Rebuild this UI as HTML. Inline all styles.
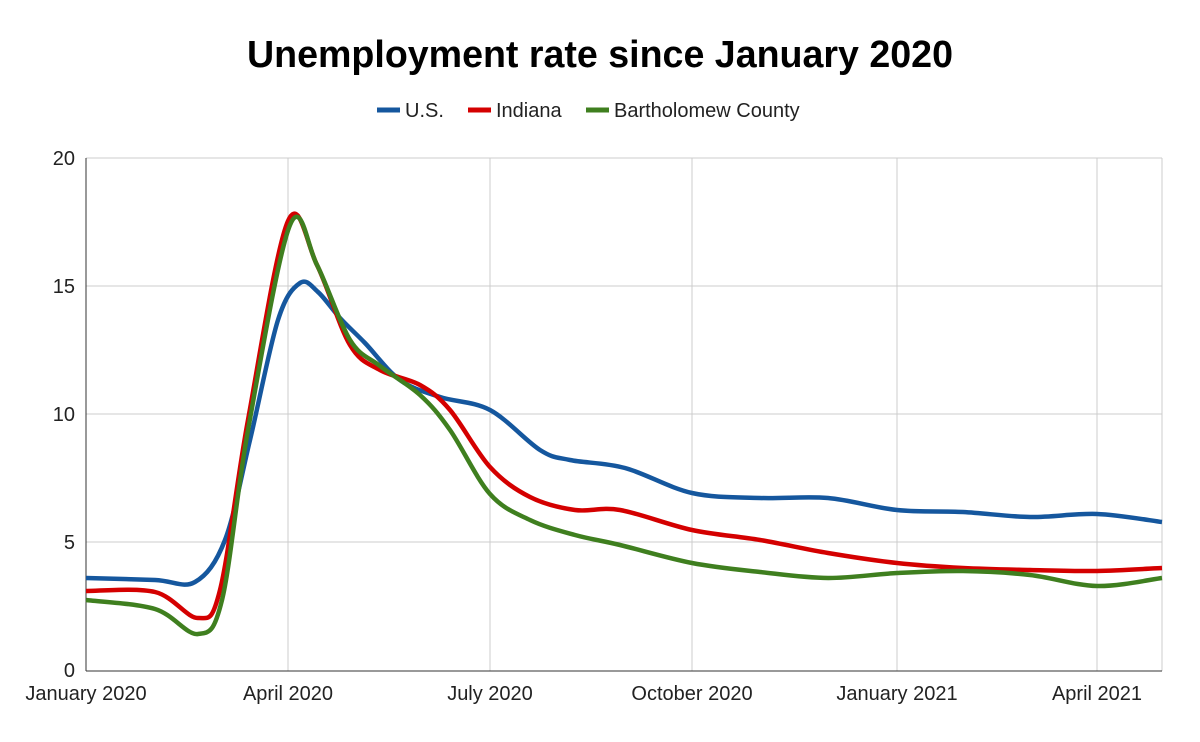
<!DOCTYPE html>
<html><head><meta charset="utf-8"><style>
html,body{margin:0;padding:0;background:#fff}
svg{display:block;font-family:"Liberation Sans",Arial,sans-serif}
</style></head><body>
<svg id="s" width="1200" height="742" viewBox="0 0 1200 742">
<rect width="1200" height="742" fill="#fff"/>
<text x="600" y="67" text-anchor="middle" font-size="37.6" font-weight="bold" fill="#000">Unemployment rate since January 2020</text>
<g font-size="20" fill="#222">
<line x1="377" y1="110" x2="400" y2="110" stroke="#15579e" stroke-width="5"/>
<text x="405" y="117">U.S.</text>
<line x1="468" y1="110" x2="491" y2="110" stroke="#d40000" stroke-width="5"/>
<text x="496" y="117">Indiana</text>
<line x1="586" y1="110" x2="609" y2="110" stroke="#3f7f1f" stroke-width="5"/>
<text x="614" y="117">Bartholomew County</text>
</g>
<g stroke="#ccc" stroke-width="1">
<line x1="86" y1="158" x2="1162" y2="158"/>
<line x1="86" y1="286" x2="1162" y2="286"/>
<line x1="86" y1="414" x2="1162" y2="414"/>
<line x1="86" y1="542" x2="1162" y2="542"/>
<line x1="288" y1="158" x2="288" y2="671"/>
<line x1="490" y1="158" x2="490" y2="671"/>
<line x1="692" y1="158" x2="692" y2="671"/>
<line x1="897" y1="158" x2="897" y2="671"/>
<line x1="1097" y1="158" x2="1097" y2="671"/>
<line x1="1162" y1="158" x2="1162" y2="671"/>
</g>
<line x1="86" y1="158" x2="86" y2="671" stroke="#333" stroke-width="1"/>
<line x1="86" y1="671" x2="1162" y2="671" stroke="#333" stroke-width="1"/>
<g font-size="20" fill="#222" text-anchor="end">
<text x="75" y="165">20</text><text x="75" y="293">15</text><text x="75" y="421">10</text><text x="75" y="549">5</text><text x="75" y="677">0</text>
</g>
<g font-size="20" fill="#222" text-anchor="middle">
<text x="86" y="700">January 2020</text><text x="288" y="700">April 2020</text><text x="490" y="700">July 2020</text><text x="692" y="700">October 2020</text><text x="897" y="700">January 2021</text><text x="1097" y="700">April 2021</text>
</g>
<path id="us" fill="none" stroke="#15579e" stroke-width="4.5"/>
<path id="in" fill="none" stroke="#d40000" stroke-width="4.5"/>
<path id="bc" fill="none" stroke="#3f7f1f" stroke-width="4.5"/>
</svg>
<script>
function cr(p){let d="M"+p[0][0]+","+p[0][1];for(let i=0;i<p.length-1;i++){const a=p[i-1]||p[i],b=p[i],c=p[i+1],e=p[i+2]||c;
d+=" C"+(b[0]+(c[0]-a[0])/6)+","+(b[1]+(c[1]-a[1])/6)+" "+(c[0]-(e[0]-b[0])/6)+","+(c[1]-(e[1]-b[1])/6)+" "+c[0]+","+c[1];}return d;}
const us=[[86,578],[155,580],[195,582],[225,540],[250,440],[278,320],[300,283],[318,292],[340,318],[365,343],[400,380],[440,397],[490,410],[540,450],[570,460],[625,468],[692,493],[760,498],[828,498],[897,510],[963,512],[1030,517],[1097,514],[1162,522]];
const ind=[[86,591],[155,592],[198,618],[220,590],[248,420],[288,221],[317,265],[350,345],[380,370],[420,385],[450,410],[490,467],[530,497],[575,510],[620,510],[692,530],[760,540],[828,553],[897,563],[963,568],[1030,570],[1097,571],[1162,568]];
const bc=[[86,600],[155,609],[198,634],[222,600],[248,430],[290,225],[317,265],[350,340],[380,366],[420,395],[450,430],[490,494],[530,520],[575,535],[620,545],[692,563],[760,572],[828,578],[897,573],[963,571],[1030,575],[1097,586],[1162,578]];
document.getElementById("us").setAttribute("d",cr(us));
document.getElementById("in").setAttribute("d",cr(ind));
document.getElementById("bc").setAttribute("d",cr(bc));
</script>
</body></html>
